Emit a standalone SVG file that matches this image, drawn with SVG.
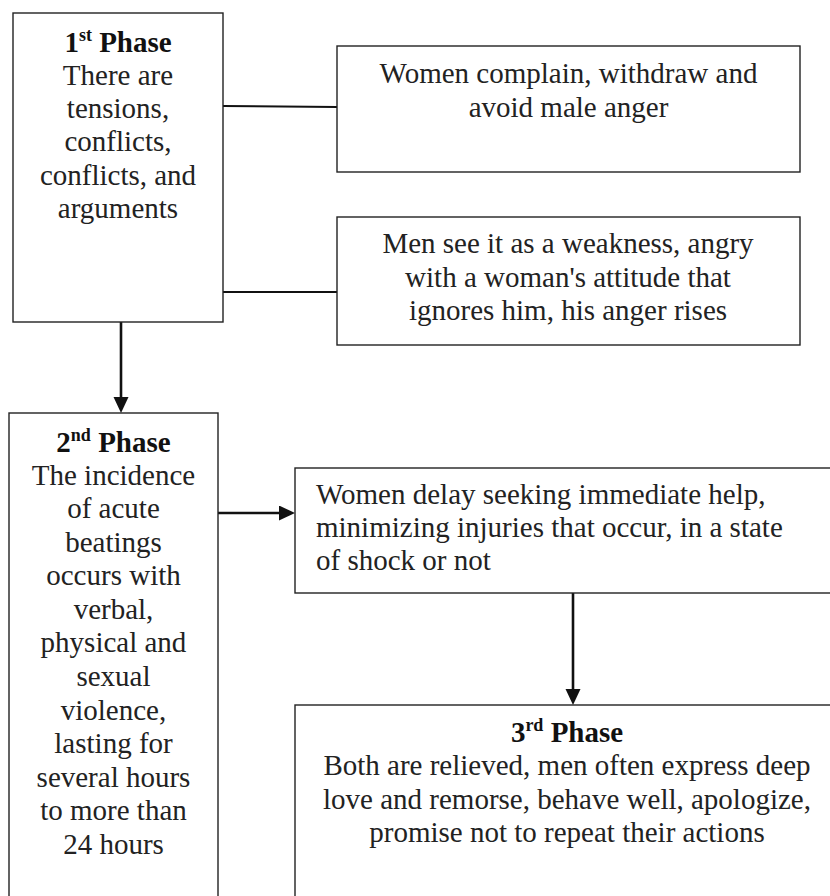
<svg xmlns="http://www.w3.org/2000/svg" width="830" height="896" viewBox="0 0 830 896">
<style>
.box{fill:#fff;stroke:#222;stroke-width:1.4}
.t{font-family:"Liberation Serif","Times New Roman",serif;font-size:29px;fill:#222}
.c{text-anchor:middle}
.b{font-weight:bold;fill:#111}
.sup{font-size:18px}
.ln{stroke:#111;stroke-width:2;fill:none}
.ar{stroke:#111;stroke-width:2.6;fill:none}
</style>
<defs>
<marker id="ah" markerUnits="userSpaceOnUse" markerWidth="16" markerHeight="16" refX="2" refY="7.5" orient="auto">
<path d="M0,0 L16,7.5 L0,15 z" fill="#111"/>
</marker>
</defs>
<rect width="830" height="896" fill="#fff"/>
<g id="connectors">
<line class="ln" x1="223" y1="106" x2="337" y2="107"/>
<line class="ln" x1="223" y1="292" x2="337" y2="292"/>
<line class="ar" x1="121" y1="322" x2="121" y2="399" marker-end="url(#ah)"/>
<line class="ar" x1="218" y1="513" x2="281" y2="513" marker-end="url(#ah)"/>
<line class="ar" x1="573" y1="593" x2="573" y2="691" marker-end="url(#ah)"/>
</g>
<g id="phase1">
<rect class="box" x="13" y="13" width="210" height="309"/>
<text class="t c" x="118" y="51.5"><tspan class="b">1</tspan><tspan class="b sup" dy="-11">st</tspan><tspan class="b" dy="11"> Phase</tspan></text>
<text class="t c" x="118" y="84.5">There are</text>
<text class="t c" x="118" y="117.5">tensions,</text>
<text class="t c" x="118" y="151">conflicts,</text>
<text class="t c" x="118" y="184.5">conflicts, and</text>
<text class="t c" x="118" y="218">arguments</text>
</g>
<g id="women1">
<rect class="box" x="337" y="46" width="463" height="126"/>
<text class="t c" x="568.5" y="83">Women complain, withdraw and</text>
<text class="t c" x="568.5" y="116.5">avoid male anger</text>
</g>
<g id="men1">
<rect class="box" x="337" y="217" width="463" height="128"/>
<text class="t c" x="568" y="253">Men see it as a weakness, angry</text>
<text class="t c" x="568" y="286.5">with a woman's attitude that</text>
<text class="t c" x="568" y="320">ignores him, his anger rises</text>
</g>
<g id="phase2">
<rect class="box" x="9" y="413" width="209" height="500"/>
<text class="t c" x="113.5" y="451.5"><tspan class="b">2</tspan><tspan class="b sup" dy="-11">nd</tspan><tspan class="b" dy="11"> Phase</tspan></text>
<text class="t c" x="113.5" y="484.5">The incidence</text>
<text class="t c" x="113.5" y="518">of acute</text>
<text class="t c" x="113.5" y="551.5">beatings</text>
<text class="t c" x="113.5" y="585">occurs with</text>
<text class="t c" x="113.5" y="618.5">verbal,</text>
<text class="t c" x="113.5" y="652">physical and</text>
<text class="t c" x="113.5" y="686">sexual</text>
<text class="t c" x="113.5" y="719.5">violence,</text>
<text class="t c" x="113.5" y="753">lasting for</text>
<text class="t c" x="113.5" y="786.5">several hours</text>
<text class="t c" x="113.5" y="820">to more than</text>
<text class="t c" x="113.5" y="853.5">24 hours</text>
</g>
<g id="women2">
<rect class="box" x="295" y="468" width="545" height="125"/>
<text class="t" x="316" y="504">Women delay seeking immediate help,</text>
<text class="t" x="316" y="537">minimizing injuries that occur, in a state</text>
<text class="t" x="316" y="569.5">of shock or not</text>
</g>
<g id="phase3">
<rect class="box" x="295" y="705" width="545" height="210"/>
<text class="t c" x="567" y="742"><tspan class="b">3</tspan><tspan class="b sup" dy="-11">rd</tspan><tspan class="b" dy="11"> Phase</tspan></text>
<text class="t c" x="567" y="775">Both are relieved, men often express deep</text>
<text class="t c" x="567" y="808.5">love and remorse, behave well, apologize,</text>
<text class="t c" x="567" y="841.5">promise not to repeat their actions</text>
</g>
</svg>
